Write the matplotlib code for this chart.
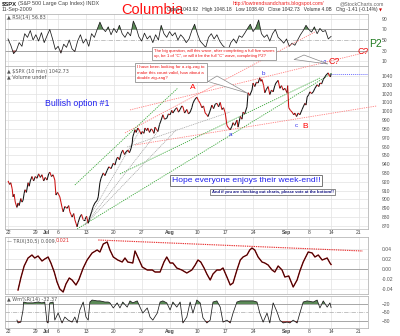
import matplotlib
matplotlib.use("Agg")
import matplotlib.pyplot as plt
import numpy as np
from matplotlib.collections import LineCollection
from matplotlib.patches import Polygon

plt.rcParams['font.family'] = ['Liberation Sans', 'DejaVu Sans']

# ---------------- data (x = trading-session index, 0 = 22 Jun 2009) ----------------
tick_pos = [0, 5, 7, 9, 14, 19, 24, 29, 34, 39, 44, 50, 54, 58, 63]
tick_lab = ["22", "29", "Jul", "6", "13", "20", "27", "Aug", "10", "17", "24", "Sep", "8", "14", "21"]
month_labels = {"Jul", "Aug", "Sep"}

price_levels = list(range(870, 1041, 10))

price_pts = [
    (0.0, 921), (0.3, 917), (0.5, 919), (0.75, 912), (0.9, 903), (1.1, 906), (1.3, 897), (1.6, 891),
    (1.8, 896), (2.0, 893), (2.3, 901), (2.5, 897), (2.7, 899), (2.9, 907), (3.05, 911), (3.3, 908),
    (3.6, 919), (3.8, 915), (4.0, 921), (4.3, 926), (4.6, 921), (4.9, 926), (5.2, 924), (5.5, 929),
    (5.8, 925), (6.1, 928), (6.4, 921), (6.7, 925), (7.0, 922), (7.3, 929), (7.5, 931), (7.8, 926),
    (8.1, 928), (8.4, 922), (8.6, 905), (8.9, 908), (9.3, 903), (9.5, 897), (9.7, 891), (9.9, 886),
    (10.2, 892), (10.6, 890), (10.9, 893), (11.1, 886), (11.3, 883), (11.5, 880), (11.8, 884),
    (12.0, 877), (12.2, 873), (12.4, 869), (12.6, 874), (12.9, 880), (13.2, 883), (13.5, 877),
    (13.8, 877), (14.1, 881), (14.4, 873), (14.7, 880), (15.0, 886), (15.3, 892), (15.6, 896),
    (16.0, 899), (16.2, 903), (16.5, 919), (16.7, 924), (17.1, 930), (17.4, 927), (17.8, 933),
    (18.1, 937), (18.5, 935), (18.9, 941), (19.2, 939), (19.5, 946), (19.7, 948), (20.0, 945),
    (20.3, 952), (20.6, 956), (20.9, 951), (21.2, 954), (21.5, 956), (21.8, 953), (22.1, 958),
    (22.3, 964), (22.4, 971), (22.6, 975), (22.8, 979), (23.0, 976), (23.3, 981), (23.6, 978),
    (23.9, 974), (24.1, 977), (24.4, 975), (24.6, 981), (24.9, 978), (25.1, 981), (25.4, 976),
    (25.7, 980), (25.9, 979), (26.2, 975), (26.4, 982), (26.7, 979), (26.9, 977), (27.2, 985),
    (27.5, 990), (27.8, 996), (28.1, 991), (28.5, 992), (28.8, 997), (29.1, 996), (29.4, 1001),
    (29.6, 998), (30.0, 1002), (30.3, 1004), (30.6, 999), (30.9, 1002), (31.2, 1006), (31.4, 1005),
    (31.7, 998), (32.1, 1002), (32.4, 997), (32.7, 999), (33.0, 1004), (33.2, 1009), (33.5, 1013),
    (33.9, 1016), (34.2, 1012), (34.5, 1009), (34.8, 1004), (35.1, 1006), (35.4, 998), (35.7, 996),
    (35.9, 994), (36.2, 999), (36.6, 1007), (36.9, 1003), (37.2, 1008), (37.5, 1009), (37.8, 1005),
    (38.1, 1010), (38.4, 1002), (38.7, 1004), (39.0, 998), (39.3, 984), (39.6, 981), (39.9, 979),
    (40.2, 983), (40.4, 987), (40.7, 984), (41.1, 990), (41.3, 982), (41.5, 988), (41.7, 994),
    (42.0, 991), (42.2, 999), (42.5, 997), (42.9, 1005), (43.1, 1021), (43.4, 1018), (43.8, 1024),
    (44.0, 1032), (44.3, 1028), (44.6, 1033), (44.9, 1032), (45.2, 1038), (45.4, 1034), (45.6, 1036),
    (45.9, 1029), (46.1, 1021), (46.4, 1025), (46.7, 1028), (47.0, 1019), (47.3, 1024), (47.6, 1022),
    (47.9, 1029), (48.1, 1032), (48.5, 1035), (48.8, 1026), (49.1, 1029), (49.4, 1024), (49.7, 1026),
    (50.1, 1021), (50.2, 1029), (50.4, 1004), (50.7, 1001), (51.0, 999), (51.3, 996), (51.5, 998),
    (51.8, 994), (52.1, 998), (52.4, 996), (52.6, 999), (52.8, 1002), (53.0, 1005), (53.3, 1009),
    (53.5, 1007), (53.7, 1016), (54.0, 1019), (54.2, 1022), (54.5, 1020), (54.8, 1022), (55.1, 1026),
    (55.5, 1030), (55.8, 1028), (56.0, 1032), (56.3, 1031), (56.6, 1036), (56.9, 1039), (57.1, 1041),
    (57.5, 1043.5), (57.7, 1040), (57.9, 1039), (58.0, 1042.73),
]
last_close = 1042.73

rsi_vals = [
    52, 40, 24, 30, 45, 38, 62, 55, 68, 50, 60, 48, 64, 45, 58, 70, 52, 32, 38, 25,
    42, 36, 50, 33, 28, 48, 60, 44, 52, 38, 62, 55, 70, 84, 72, 66, 75, 60, 72, 64,
    78, 62, 55, 65, 58, 86, 74, 56, 48, 63, 52, 58, 45, 60, 50, 78, 62, 55, 66, 58,
    64, 50, 60, 54, 45, 52, 68, 80, 62, 48, 42, 36, 55, 62, 52, 60, 48, 40, 35, 30,
    45, 52, 44, 58, 55, 63, 72, 80, 66, 74, 88, 62, 55, 60, 48, 62, 70, 55, 50, 44,
    52, 38, 44, 40, 50, 60, 68, 78, 70, 65, 75, 62, 72, 66, 68, 52, 56.83,
]

trix_pts = [
    (1.8, -0.042), (2.3, -0.018), (2.9, 0.006), (3.6, 0.022), (4.3, 0.028), (4.8, 0.022),
    (5.4, 0.026), (6.1, 0.016), (6.6, 0.020), (7.2, 0.024), (7.7, 0.012), (8.3, -0.006),
    (8.8, -0.026), (9.3, -0.040), (9.9, -0.046), (10.4, -0.030), (11.0, -0.018), (11.5, -0.022),
    (12.2, -0.032), (12.7, -0.022), (13.5, 0.002), (14.2, 0.018), (15.1, 0.032), (16.0, 0.038),
    (16.5, 0.034), (17.1, 0.050), (17.8, 0.054), (18.3, 0.038), (18.9, 0.024), (19.7, 0.018),
    (20.5, 0.014), (21.0, 0.022), (21.5, 0.014), (22.4, 0.012), (22.8, 0.036), (23.3, 0.024),
    (24.1, 0.004), (25.0, -0.002), (25.9, -0.002), (26.4, -0.006), (27.3, -0.006), (28.0, 0.014),
    (28.5, 0.024), (29.1, 0.012), (29.6, 0.012), (30.3, 0.002), (31.2, -0.002), (32.1, -0.008),
    (33.0, -0.002), (33.6, 0.008), (34.1, 0.018), (34.6, 0.014), (35.2, 0.002), (35.7, -0.010),
    (36.3, -0.022), (36.8, -0.010), (37.5, -0.002), (38.1, -0.002), (38.6, 0.002), (39.3, -0.016),
    (39.9, -0.032), (40.4, -0.028), (41.1, -0.002), (41.7, 0.018), (42.2, 0.024), (42.9, 0.028),
    (43.4, 0.038), (43.8, 0.042), (44.3, 0.038), (44.9, 0.024), (45.6, 0.014), (46.1, 0.012),
    (46.7, 0.008), (47.4, -0.002), (47.9, -0.006), (48.5, 0.006), (49.2, -0.002), (49.7, -0.016),
    (50.4, -0.014), (51.2, -0.036), (51.9, -0.022), (52.4, -0.004), (53.0, 0.014), (53.9, 0.034),
    (54.6, 0.032), (55.1, 0.024), (55.7, 0.028), (56.4, 0.018), (57.3, 0.022), (57.8, 0.012),
    (58.0, 0.009),
]
trix_trend = [(16.2, 0.058), (63.7, 0.036)]

wr_pts = [
    (1.6, -77), (1.8, -87), (2.3, -84), (2.7, -41), (2.8, -13), (3.4, -16), (4.5, -16), (5.4, -13),
    (6.1, -16), (6.6, -13), (7.0, -84), (7.2, -87), (7.5, -16), (8.1, -13), (8.4, -77), (9.0, -52),
    (9.7, -87), (10.2, -66), (10.8, -77), (11.5, -84), (12.0, -66), (12.4, -87), (12.9, -41),
    (13.5, -13), (14.0, -66), (14.4, -77), (14.7, -13), (15.1, -6), (16.0, -9), (16.5, -9),
    (17.4, -13), (18.0, -13), (18.3, -16), (18.9, -34), (19.6, -16), (20.1, -34), (20.6, -13),
    (21.4, -31), (21.9, -9), (22.4, -16), (23.2, -9), (23.7, -31), (24.2, -52), (25.0, -34),
    (25.5, -66), (26.0, -77), (26.8, -52), (27.3, -13), (27.8, -9), (28.5, -16), (29.1, -41),
    (29.6, -13), (30.3, -31), (30.9, -13), (31.4, -87), (32.1, -66), (32.7, -13), (33.2, -52),
    (33.9, -6), (34.5, -16), (35.0, -69), (35.7, -87), (36.3, -77), (36.8, -13), (37.5, -9),
    (38.1, -31), (38.6, -84), (39.3, -77), (39.9, -87), (40.4, -52), (41.1, -13), (41.7, -9),
    (42.9, -9), (44.0, -9), (44.7, -13), (45.2, -52), (45.8, -84), (46.5, -52), (47.0, -87),
    (47.6, -16), (48.3, -48), (48.8, -77), (49.4, -87), (50.1, -84), (50.6, -87), (51.2, -77),
    (51.9, -87), (52.4, -52), (53.0, -13), (53.7, -9), (54.8, -13), (55.5, -6), (56.0, -34),
    (56.6, -9), (57.3, -31), (57.8, -16), (58.0, -32.37),
]

# trend lines on the price panel: (session, price) end points
pink_lines = [[(21.0, 975.4), (55.1, 1089.9)],
              [(21.9, 1001.5), (64.5, 1067.2)],
              [(22.8, 961.8), (66.2, 1006.0)]]
green_lines = [[(12.0, 916.4), (30.5, 1026.4)],
               [(12.4, 866.5), (58.2, 1043.4)],
               [(20.1, 928.9), (56.0, 1037.7)]]
gray_lines = [[(13.8, 871.1), (23.7, 978.8)],
              [(13.8, 871.1), (27.1, 978.8)],
              [(13.8, 871.1), (30.2, 978.8)],
              [(21.4, 959.5), (39.9, 999.2)]]

# ---------------- layout ----------------
W, H = 400, 336
fig = plt.figure(figsize=(4, 3.36), dpi=100)
fig.patch.set_facecolor('white')
LEFT, RIGHT = 5, 368
XLIM = (-0.54, 64.63)
GRID = '#e2e2e2'
SPINE = '#b8b8b8'
LBL = '#555555'


def fx(px):
    return px / W


def fy(py):
    return 1 - py / H


def panel(top, bottom):
    ax = fig.add_axes([fx(LEFT), fy(bottom), fx(RIGHT - LEFT), (bottom - top) / H])
    ax.set_xlim(*XLIM)
    for s in ax.spines.values():
        s.set_color(SPINE)
        s.set_linewidth(0.6)
    ax.yaxis.tick_right()
    ax.tick_params(axis='y', length=0, labelsize=3.6, pad=10, colors=LBL)
    ax.set_xticks(tick_pos)
    ax.tick_params(axis='x', length=0, labelsize=3.6, pad=1.0, colors='#444444')
    for xp in tick_pos:
        ax.axvline(xp, color=GRID, lw=0.5, zorder=0)
    return ax


def date_labels(ax, show):
    if show:
        ax.set_xticklabels(tick_lab)
        for lab in ax.get_xticklabels():
            if lab.get_text() in month_labels:
                lab.set_fontweight('bold')
    else:
        ax.set_xticklabels([])


def ftext(px, py, s, **kw):
    kw.setdefault('va', 'center')
    return fig.text(fx(px), fy(py), s, **kw)


# ---------------- RSI ----------------
ax_rsi = panel(14, 66)
ax_rsi.set_ylim(0.5, 99.5)
ax_rsi.set_yticks([10, 30, 50, 70, 90])
for lv in (10, 90):
    ax_rsi.axhline(lv, color=GRID, lw=0.5, zorder=0)
for lv in (30, 70):
    ax_rsi.axhline(lv, color='#999999', lw=0.6, zorder=1)
ax_rsi.axhline(50, color='#aaaaaa', lw=0.5, ls='-.', zorder=1)
rsi_t = np.linspace(0, 58, len(rsi_vals))
rsi_v = np.array(rsi_vals, dtype=float)
ax_rsi.fill_between(rsi_t, 70, rsi_v, where=rsi_v > 70, interpolate=True, color='#5b8a57', lw=0, zorder=2)
ax_rsi.fill_between(rsi_t, 30, rsi_v, where=rsi_v < 30, interpolate=True, color='#9e4a4a', lw=0, zorder=2)
ax_rsi.plot(rsi_t, rsi_v, color='#1a1a1a', lw=0.55, zorder=3)
date_labels(ax_rsi, False)

# ---------------- price ----------------
ax = panel(66, 229)
ax.set_ylim(866.5, 1051.3)
ax.set_yticks(price_levels)
for lv in price_levels:
    ax.axhline(lv, color=GRID, lw=0.5, zorder=0)
date_labels(ax, True)

pt = np.array([p[0] for p in price_pts])
pv = np.array([p[1] for p in price_pts])
segs = np.stack([np.column_stack([pt[:-1], pv[:-1]]), np.column_stack([pt[1:], pv[1:]])], axis=1)
cols = np.where(np.diff(pv) < 0, '#cc1010', '#111111')
ax.add_collection(LineCollection(segs, colors=cols, linewidths=0.75, zorder=5))

for ln in pink_lines:
    (a0, b0), (a1, b1) = ln
    ax.plot([a0, a1], [b0, b1], color='#ff7f7f', lw=0.6, ls=(0, (1.5, 1.2)), clip_on=False, zorder=3)
for ln in green_lines:
    (a0, b0), (a1, b1) = ln
    ax.plot([a0, a1], [b0, b1], color='#3aa83a', lw=0.6, ls=(0, (1.5, 1.2)), clip_on=False, zorder=3)
for ln in gray_lines:
    (a0, b0), (a1, b1) = ln
    ax.plot([a0, a1], [b0, b1], color='#9a9a9a', lw=0.5, ls=(0, (1.5, 1.2)), clip_on=False, zorder=3)
ax.plot([pt[-1], XLIM[1]], [last_close, last_close], color='#6f6fff', lw=0.7, ls=(0, (1, 1)), zorder=4)

ax.text(33.2, 1026.4, "A", color='red', fontsize=6, ha='center', va='center', zorder=6)
ax.text(40.0, 974.2, "a", color='#3333ee', fontsize=4.5, ha='center', va='center', zorder=6)
ax.text(45.8, 1042.3, "b", color='#3333ee', fontsize=4.5, ha='center', va='center', zorder=6)
ax.text(51.7, 984.4, "c", color='#3333ee', fontsize=4.5, ha='center', va='center', zorder=6)
ax.text(53.3, 983.0, "B", color='red', fontsize=6, ha='center', va='center', zorder=6)

# ---------------- TRIX ----------------
ax_tx = panel(237, 294)
ax_tx.set_ylim(-0.05, 0.064)
ax_tx.set_yticks([-0.04, -0.02, 0.0, 0.02, 0.04])
ax_tx.set_yticklabels(["-0.04", "-0.02", "0.00", "0.02", "0.04"])
for lv in (-0.04, -0.02, 0.02, 0.04):
    ax_tx.axhline(lv, color=GRID, lw=0.5, zorder=0)
ax_tx.axhline(0, color='#999999', lw=0.6, zorder=1)
tt = [p[0] for p in trix_pts]
tv = [p[1] for p in trix_pts]
ax_tx.plot(tt, tv, color='#9b0000', lw=1.0, zorder=3)
ax_tx.plot(tt, tv, color='#111111', lw=0.4, zorder=4)
ax_tx.plot([trix_trend[0][0], trix_trend[1][0]], [trix_trend[0][1], trix_trend[1][1]],
           color='#e83030', lw=0.8, ls=(0, (1.2, 0.8)), zorder=3)
date_labels(ax_tx, False)

# ---------------- Williams %R ----------------
ax_wr = panel(296, 328)
ax_wr.set_ylim(-104.8, 8.3)
ax_wr.set_yticks([-80, -50, -20])
ax_wr.axhline(-20, color='#999999', lw=0.6, zorder=1)
ax_wr.axhline(-80, color='#999999', lw=0.6, zorder=1)
ax_wr.axhline(-50, color='#aaaaaa', lw=0.5, ls='-.', zorder=1)
wt = np.array([p[0] for p in wr_pts])
wv = np.array([p[1] for p in wr_pts])
ax_wr.fill_between(wt, -20, wv, where=wv > -20, interpolate=True, color='#5b8a57', lw=0, zorder=2)
ax_wr.fill_between(wt, -80, wv, where=wv < -80, interpolate=True, color='#9e4a4a', lw=0, zorder=2)
ax_wr.plot(wt, wv, color='#1a1a1a', lw=0.55, zorder=3)
date_labels(ax_wr, True)

# ---------------- header and panel captions ----------------
ftext(2, 4, "$SPX", fontsize=4.2, fontweight='bold', color='#222222')
ftext(18, 4, "(S&P 500 Large Cap Index) INDX", fontsize=3.9, color='#444444')
ftext(2, 10, "11-Sep-2009", fontsize=3.9, color='#444444')
ftext(152, 10, "Columbia", fontsize=10.5, color='#ff1010', ha='center')
ftext(233, 4, "http://lowtrendsandcharts.blogspot.com/", fontsize=3.7, color='#ee2020')
ftext(384, 4, "@StockCharts.com", fontsize=3.7, color='#666666', ha='right')
ftext(378, 10, "Open 1043.92   High 1048.18   Low 1038.40   Close 1042.73   Volume 4.0B   Chg -1.41 (-0.14%)",
      fontsize=3.5, color='#333333', ha='right')
ftext(379, 10, "\u25bc", fontsize=2.8, color='#cc0000', family=['DejaVu Sans'])

ftext(7, 17, "\u25b2 RSI(14) 56.83", fontsize=3.5, color='#555555', family=['DejaVu Sans'])
ftext(7, 72, "\u25b2 $SPX (10 min) 1042.73", fontsize=3.5, color='#555555', family=['DejaVu Sans'])
ftext(7, 77, "\u25b2 Volume undef", fontsize=3.5, color='#555555', family=['DejaVu Sans'])
ftext(7, 241, "\u2014 TRIX(30,5) 0.009,", fontsize=3.5, color='#555555', family=['DejaVu Sans'])
ftext(56, 241, "0.021", fontsize=3.5, color='#e03030', family=['DejaVu Sans'])
ftext(7, 299, "\u25b2 Wm%R(14) -32.37", fontsize=3.5, color='#555555', family=['DejaVu Sans'])

# ---------------- commentary ----------------
ftext(77, 103, "Bullish option #1", fontsize=6.3, color='#2020ee', ha='center')

ftext(363, 51, "C?", fontsize=6.3, color='#ee1010', ha='center')
ftext(376, 44, "P2", fontsize=7.5, color='#1f7a1f', ha='center')
ftext(334, 61, "C?", fontsize=6.3, color='#ee1010', ha='center')
ftext(324, 62, "iv?", fontsize=3.5, color='#3333ee', ha='center')

tail1 = Polygon([(fx(294), fy(59.5)), (fx(304), fy(55)), (fx(328), fy(64))], closed=True,
                transform=fig.transFigure, fc='white', ec='#888888', lw=0.5, zorder=4)
tail2 = Polygon([(fx(208), fy(81.5)), (fx(217), fy(76)), (fx(247), fy(93))], closed=True,
                transform=fig.transFigure, fc='white', ec='#888888', lw=0.5, zorder=4)
fig.patches.extend([tail1, tail2])

box = dict(boxstyle='square,pad=0.45', fc='white', ec='#888888', lw=0.55)
ftext(154, 53.5,
      "The big question, will this wave, after completing a full five waves\n"
      "up, be 1 of \"C\", or will it be the full \"C\" wave, completing P2?",
      fontsize=3.05, color='#ee1010', linespacing=1.45, bbox=box, zorder=5)
ftext(137, 72.5,
      "I have been looking for a zig-zag to\n"
      "make this count valid, how about a\n"
      "double zig-zag?",
      fontsize=3.2, color='#ee1010', linespacing=1.35, bbox=box, zorder=5)

ftext(246, 180.5, "Hope everyone enjoys their week-end!!", fontsize=6.1, color='#2020ee', ha='center',
      bbox=dict(boxstyle='square,pad=0.22', fc='white', ec='#777777', lw=0.7), zorder=5)
ftext(272.5, 192, "And if you are checking out charts, please vote at the bottom!!", fontsize=3.0,
      color='#101080', fontweight='bold', ha='center',
      bbox=dict(boxstyle='square,pad=0.3', fc='white', ec='#777777', lw=0.6), zorder=5)

fig.savefig("out.png", dpi=100, facecolor='white')
